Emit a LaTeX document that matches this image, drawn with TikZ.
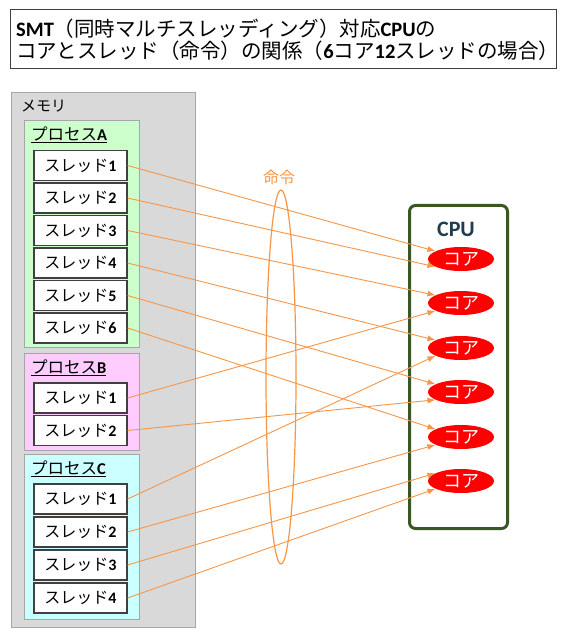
\documentclass[tikz,border=0pt]{standalone}
\usepackage{fontspec}
\setmainfont{Noto Sans CJK JP}
\newfontfamily\latf{Carlito}
\usetikzlibrary{arrows.meta,shapes.geometric}
\definecolor{org}{RGB}{247,150,70}
\definecolor{memfill}{RGB}{217,217,217}
\definecolor{memline}{RGB}{166,166,166}
\definecolor{pafill}{RGB}{204,255,204}
\definecolor{pbfill}{RGB}{255,204,255}
\definecolor{pcfill}{RGB}{204,255,255}
\definecolor{tline}{RGB}{64,64,64}
\definecolor{cpug}{RGB}{56,87,35}
\definecolor{cpub}{RGB}{31,60,80}
\newcommand{\srd}[1]{スレッド{\latf\bfseries #1}}
\newcommand{\lb}[1]{{\latf\bfseries #1}}
\begin{document}
\begin{tikzpicture}[x=1pt,y=-1pt,
  thrbox/.style={draw=tline, fill=white, line width=1.2pt, minimum width=93pt, minimum height=30pt, inner sep=0pt, font=\fontsize{16}{16}\selectfont},
  procbox/.style={draw=memline, line width=1.2pt, anchor=north west, inner sep=0pt},
  plabel/.style={anchor=west, inner sep=0pt, font=\fontsize{16.5}{16.5}\selectfont},
  corenode/.style={ellipse, fill=red, draw=none, minimum width=66pt, minimum height=24pt, inner sep=0pt, text=white, font=\fontsize{18}{18}\selectfont},
  arr/.style={draw=org, line width=0.9pt, -{Latex[length=8pt,width=6pt]}}]
\useasboundingbox (0,0) rectangle (569,636);
\fill[white] (0,0) rectangle (569,636);
% title
\node[draw=tline, line width=1.2pt, fill=white, anchor=north west, minimum width=546pt, minimum height=59pt, inner sep=0pt] (tbox) at (10,9) {};
\node[anchor=west, align=left, inner sep=0pt, font=\fontsize{20.5}{22}\selectfont] (ttl) at (16,40)
  {\lb{SMT}（同時マルチスレッディング）対応\lb{CPU}の\\コアとスレッド（命令）の関係（\lb{6}コア\lb{12}スレッドの場合）};
% memory
\node[procbox, fill=memfill, minimum width=184pt, minimum height=535pt] (mem) at (11,92) {};
\node[plabel, font=\fontsize{15}{15}\selectfont] (meml) at (21,106) {メモリ};
% processes
\node[procbox, fill=pafill, minimum width=115pt, minimum height=227pt] (pA) at (24,120) {};
\node[plabel] (pAl) at (31,135) {\underline{プロセス\lb{A}}};
\node[procbox, fill=pbfill, minimum width=115pt, minimum height=97pt] (pB) at (24,353) {};
\node[plabel] (pBl) at (31,368) {\underline{プロセス\lb{B}}};
\node[procbox, fill=pcfill, minimum width=115pt, minimum height=165pt] (pC) at (24,454) {};
\node[plabel] (pCl) at (31,469) {\underline{プロセス\lb{C}}};
% threads
\node[thrbox] (a1) at (80.5,165.5) {\srd{1}};
\node[thrbox] (a2) at (80.5,198) {\srd{2}};
\node[thrbox] (a3) at (80.5,230.5) {\srd{3}};
\node[thrbox] (a4) at (80.5,263) {\srd{4}};
\node[thrbox] (a5) at (80.5,295.5) {\srd{5}};
\node[thrbox] (a6) at (80.5,328) {\srd{6}};
\node[thrbox] (b1) at (80.5,398) {\srd{1}};
\node[thrbox] (b2) at (80.5,430.5) {\srd{2}};
\node[thrbox] (c1) at (80.5,499) {\srd{1}};
\node[thrbox] (c2) at (80.5,532) {\srd{2}};
\node[thrbox] (c3) at (80.5,565) {\srd{3}};
\node[thrbox] (c4) at (80.5,598) {\srd{4}};
% CPU
\node[draw=cpug, line width=3pt, rounded corners=6pt, anchor=north west, minimum width=98pt, minimum height=323pt, inner sep=0pt] (cpu) at (408,204) {};
\node[text=cpub, inner sep=0pt, font=\latf\bfseries\fontsize{22}{22}\selectfont] (cpul) at (456,229) {CPU};
\node[corenode] (k1) at (461,259) {コア};
\node[corenode] (k2) at (461,303) {コア};
\node[corenode] (k3) at (461,348) {コア};
\node[corenode] (k4) at (461,392) {コア};
\node[corenode] (k5) at (461,437) {コア};
\node[corenode] (k6) at (461,481) {コア};
% instruction ellipse
\node[ellipse, draw=org, line width=1.2pt, minimum width=30pt, minimum height=374pt, inner sep=0pt] (cmd) at (281,377) {};
\node[text=org, inner sep=0pt, font=\fontsize{16}{16}\selectfont] (cmdl) at (279,177) {命令};
% arrows
\draw[arr] (a1.east) -- (k1.163);
\draw[arr] (a2.east) -- (k1.197);
\draw[arr] (a3.east) -- (k2.163);
\draw[arr] (b1.east) -- (k2.197);
\draw[arr] (a4.east) -- (k3.163);
\draw[arr] (c1.east) -- (k3.197);
\draw[arr] (a5.east) -- (k4.163);
\draw[arr] (b2.east) -- (k4.197);
\draw[arr] (a6.east) -- (k5.163);
\draw[arr] (c2.east) -- (k5.197);
\draw[arr] (c3.east) -- (k6.163);
\draw[arr] (c4.east) -- (k6.197);
\end{tikzpicture}
\end{document}
